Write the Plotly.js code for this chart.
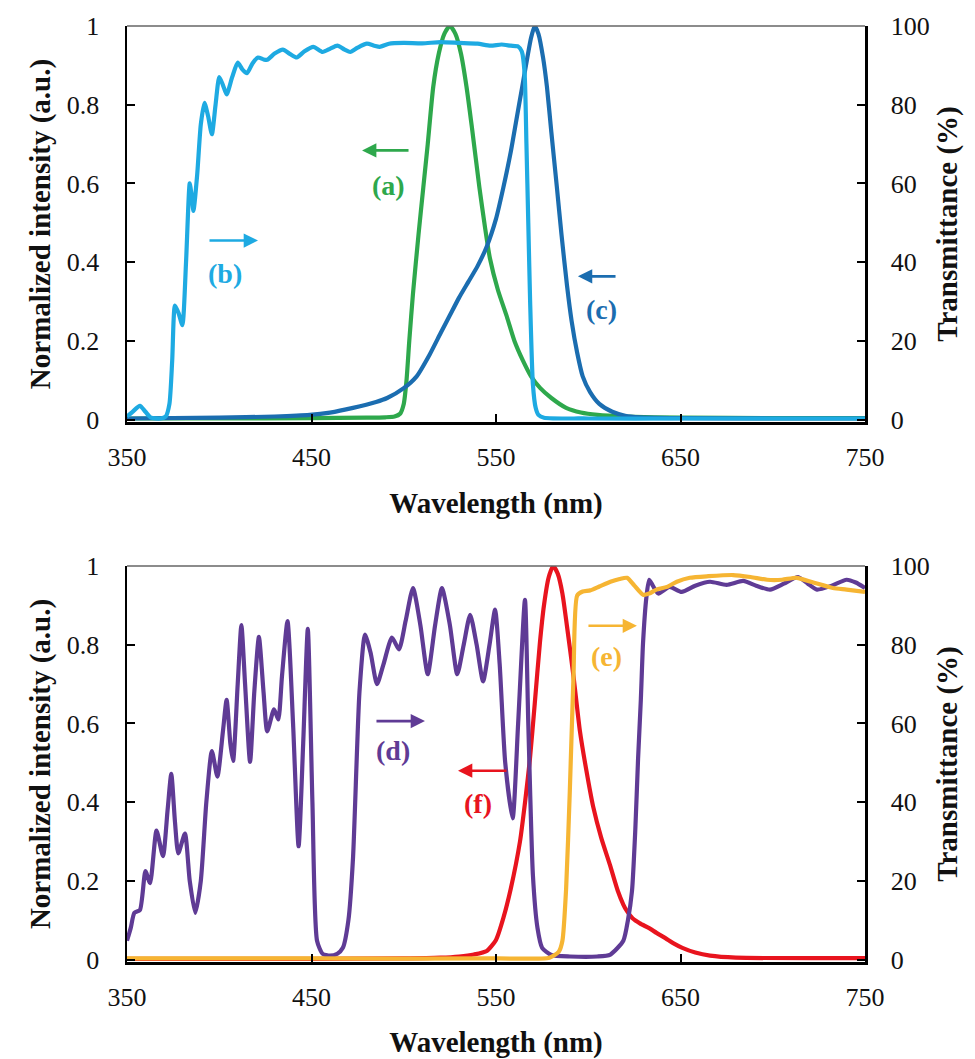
<!DOCTYPE html>
<html>
<head>
<meta charset="utf-8">
<script src="https://cdn.plot.ly/plotly-3.0.1.min.js"></script>
<style>
html,body{margin:0;padding:0;background:#fff;}
#chart{width:975px;height:1059px;}
#chart text { font-family: 'Liberation Serif', 'Times New Roman', Tinos, 'Noto Serif', serif !important; }
</style>
</head>
<body>
<div id="chart"></div>
<script>
// ---------- Top panel ----------
// (b) light blue transmittance (%)
const wlB = [350,353,357,360,363,368,371,373,374.5,376,378,380,382,384,385,386,388,390,392,394,396,398,400,402,404,407,410,412.5,415,418,421,424,426,430,434.5,438,442,446,451,456,460,464,468,471,475,480,484,487,492,500,510,520,530,540,547,553,558,562,564,565.5,566.5,567.5,568.5,570,571.5,573,576,600,650,700,750];
const tB  = [0.8,2.0,3.5,2.0,0.5,0.3,0.8,4,15,29,27,24,40,60,57,53,62,75,80.5,77,72.5,80,87,85,82.6,87,90.7,89,88,90.5,92,91.5,91.4,93,94,93,92,93.5,94.7,93.4,94.2,95,94,93.4,94.5,95.5,95,94.7,95.5,95.7,95.6,95.9,95.7,95.5,95,95.3,95,94.8,93.5,88,70,50,30,9,3,1.2,0.5,0.3,0.3,0.3,0.3];
// (a) green normalized intensity
const wlA = [350,400,450,480,490,495,498,500,501.5,503,505,508,510.6,513,516,519,522,525,528,531,534,537,541,544,546.7,551,556,560,564.6,569,574,580,588,596,605,620,650,700,750];
const iA  = [0.003,0.003,0.004,0.005,0.006,0.008,0.015,0.04,0.1,0.2,0.32,0.47,0.59,0.7,0.846,0.93,0.98,1.0,0.98,0.93,0.846,0.74,0.59,0.49,0.41,0.33,0.26,0.2,0.15,0.11,0.08,0.055,0.03,0.018,0.012,0.008,0.005,0.004,0.004];
// (c) dark blue normalized intensity
const wlC = [350,400,430,449,460,472.5,485,491,500,507,514,520,525,530,535,540,545,550,554,558,561,564,567,569,571,573,575.5,577.6,580,583,585.5,588.5,591,594,597,601,606,613,620,628,650,700,750];
const iC  = [0.003,0.005,0.008,0.012,0.018,0.03,0.045,0.055,0.08,0.11,0.165,0.22,0.265,0.31,0.35,0.39,0.44,0.51,0.59,0.68,0.76,0.84,0.92,0.97,1.0,0.98,0.92,0.846,0.73,0.59,0.47,0.34,0.25,0.17,0.11,0.07,0.04,0.02,0.01,0.006,0.004,0.003,0.003];

// ---------- Bottom panel ----------
// (d) purple transmittance (%)
const wlD = [350,352,354,357,360,362.5,366,369.5,372,374,376,377.8,381.4,384,387,390,393,396,399,402,404,406,407.5,410,412,414,416.7,419,421.5,424,426,429.7,432,434,437,440,443,445.5,448,450.5,453,456,460,464,467,470,472.5,476,479,482,485.5,489,493.6,497.4,501,505,509,513,517,520.7,525,529,532.5,536,539.5,543,546.5,549.5,552,555,559,562,565.7,567.5,570,572.5,575,580,590,605,612,619,621.5,623.7,625.5,627,628.5,629.7,631.5,633,635,638,644,650.6,658,666,675,684,691,698.5,706,713.7,719,724,732,740,745,750];
const tD  = [4.8,8,11.9,12.6,22.5,19.4,32.8,26.3,38,47.2,35,27,32,20,11.9,20,40,53,46.5,58,66,55,50.5,70,85,70,50.2,68,82,68,58,63.6,61,72,86,60,28.8,55,84,40,4.8,1.5,1.0,1.5,3,10,25.8,68,82.6,78,70,75,81.8,78.8,86,94.4,85,72.5,85,94.4,85,72.5,80,87.6,80,70.7,80,88.9,75,50,35.9,60,91.4,60,21.5,8,3,1.2,0.8,0.8,1.3,4.8,10,17.4,33,51,66,80.5,92,96.5,95,93,94.7,93.4,95,96,95.2,96.2,95,94,95.5,97.2,95.5,94,95,96.5,95.8,94.4];
// (e) yellow transmittance (%)
const wlE = [350,450,550,579,584,586,588,590,592,594,597,601,606,612,617,621,625,629.7,633,637,642.7,648,655,665,678.5,688,697,705,713,722,732.6,740,750];
const tE  = [0.3,0.3,0.3,0.5,2,4.8,18,42.7,72,92.5,93.5,93.8,94.8,96,96.7,97,95,92.7,93,94,94.7,96,97,97.4,97.7,97.2,96.5,96.5,97,95.8,94.4,94,93.4];
// (f) red normalized intensity
const wlF = [350,450,500,520,530,538,545,550,554,558,563,566,568.4,571,573.8,576,578.5,581,583.5,586,588.5,592,595.5,599,602.6,607,611.8,616,619,621,624,628,633,637,642,646,651,658,666,680,750];
const iF  = [0.002,0.002,0.003,0.005,0.008,0.013,0.022,0.05,0.106,0.18,0.3,0.41,0.51,0.65,0.805,0.9,0.97,1.0,0.98,0.93,0.846,0.72,0.58,0.48,0.39,0.31,0.24,0.175,0.14,0.123,0.105,0.092,0.08,0.068,0.054,0.042,0.03,0.018,0.01,0.005,0.004];

// tick labels
const xTicks = [350,450,550,650,750];
const yTicksL = [0,0.2,0.4,0.6,0.8,1];
const yTicksR = [0,20,40,60,80,100];

// curve labels
const labelText = ['(a)','(b)','(c)','(d)','(e)','(f)'];

(function(){
  var FAM = 'Times New Roman';
  var C = {a:'#2ea84c', b:'#1eaae2', c:'#1b6db0', d:'#5f3b95', e:'#f6b533', f:'#e8141e'};
  var LW = 4.2;

  function mkLine(x, y, c, xa, ya, nm){
    return {x:x, y:y, type:'scatter', mode:'lines', name:nm, xaxis:xa, yaxis:ya,
            line:{color:c, width:LW, shape:'spline', smoothing:0.6}, hoverinfo:'x+y'};
  }

  var traces = [
    mkLine(wlA, iA, C.a, 'x', 'y', '(a)'),
    mkLine(wlC, iC, C.c, 'x', 'y', '(c)'),
    mkLine(wlB, tB, C.b, 'x', 'y2', '(b)'),
    mkLine(wlD, tD, C.d, 'x2', 'y4', '(d)'),
    mkLine(wlE, tE, C.e, 'x2', 'y4', '(e)'),
    mkLine(wlF, iF, C.f, 'x2', 'y3', '(f)')
  ];

  function tf(){ return {family:FAM, size:26, color:'#111'}; }
  function ttf(){ return {family:FAM, size:29, color:'#111', weight:'bold'}; }

  function mkX(anc, so){
    return {anchor:anc, range:[350,750], tickvals:xTicks, ticktext:xTicks.map(String),
      ticks:'inside', ticklen:8, tickwidth:2, tickcolor:'#000', showline:true, linecolor:'#000', linewidth:2.5,
      showgrid:false, zeroline:false, tickfont:tf(), ticklabelstandoff:10,
      title:{text:'<b>Wavelength (nm)</b>', font:ttf(), standoff:so}};
  }
  function mkYL(dom, anc){
    return {domain:dom, anchor:anc, range:[-0.006,1], tickvals:yTicksL, ticktext:yTicksL.map(String),
      ticks:'inside', ticklen:8, tickwidth:2, tickcolor:'#000', showline:true, linecolor:'#000', linewidth:2.5,
      showgrid:false, zeroline:false, tickfont:tf(), ticklabelstandoff:20,
      title:{text:'<b>Normalized intensity (a.u.)</b>', font:ttf(), standoff:8}};
  }
  function mkYR(over, anc){
    return {overlaying:over, anchor:anc, side:'right', range:[-0.6,100], tickvals:yTicksR, ticktext:yTicksR.map(String),
      ticks:'inside', ticklen:8, tickwidth:2, tickcolor:'#000', showline:true, linecolor:'#000', linewidth:2.5,
      showgrid:false, zeroline:false, tickfont:tf(), ticklabelstandoff:18,
      title:{text:'<b>Transmittance (%)</b>', font:ttf(), standoff:8}};
  }

  function mkArrow(xh, xt, y, c, xa, ya){
    return {x:xh, y:y, ax:xt, ay:y, xref:xa, yref:ya, axref:xa, ayref:ya, text:'', showarrow:true,
            arrowhead:2, arrowsize:1.1, arrowwidth:2.6, arrowcolor:c, standoff:0, startstandoff:0};
  }
  function mkLabel(t, x, y, c, xa, ya){
    return {x:x, y:y, xref:xa, yref:ya, text:'<b>'+t+'</b>', showarrow:false,
            font:{family:FAM, size:28, color:c}, xanchor:'center', yanchor:'middle'};
  }

  var anns = [
    mkArrow(477.4, 503.4, 0.684, C.a, 'x', 'y'), mkLabel(labelText[0], 491.5, 0.596, C.a, 'x', 'y'),
    mkArrow(421, 393.9, 0.455, C.b, 'x', 'y'),   mkLabel(labelText[1], 403, 0.371, C.b, 'x', 'y'),
    mkArrow(594.4, 615.6, 0.364, C.c, 'x', 'y'), mkLabel(labelText[2], 607, 0.28, C.c, 'x', 'y'),
    mkArrow(511.5, 484.4, 0.606, C.d, 'x2', 'y3'), mkLabel(labelText[3], 494, 0.53, C.d, 'x2', 'y3'),
    mkArrow(626.4, 599.3, 0.848, C.e, 'x2', 'y3'), mkLabel(labelText[4], 609.7, 0.77, C.e, 'x2', 'y3'),
    mkArrow(529.4, 556.5, 0.48, C.f, 'x2', 'y3'),  mkLabel(labelText[5], 540, 0.396, C.f, 'x2', 'y3')
  ];

  var shp = [
    {type:'line', xref:'paper', yref:'paper', x0:0, x1:1, y0:1, y1:1, line:{color:'#666', width:1.6}},
    {type:'line', xref:'paper', yref:'paper', x0:0, x1:1, y0:0.4231, y1:0.4231, line:{color:'#666', width:1.6}}
  ];

  var lay = {
    width:975, height:1059,
    margin:{l:127, r:110, t:26, b:97},
    paper_bgcolor:'#fff', plot_bgcolor:'#fff',
    font:{family:FAM, color:'#111'},
    showlegend:false,
    xaxis: mkX('y', 22),
    xaxis2: mkX('y3', 40),
    yaxis: mkYL([0.5769, 1], 'x'),
    yaxis2: mkYR('y', 'x'),
    yaxis3: mkYL([0, 0.4231], 'x2'),
    yaxis4: mkYR('y3', 'x2'),
    annotations: anns,
    shapes: shp
  };

  function draw(){ Plotly.newPlot('chart', traces, lay, {displayModeBar:false, staticPlot:true}); }
  var loads = [];
  try {
    loads = [document.fonts.load('26px "Times New Roman"'), document.fonts.load('bold 29px "Times New Roman"'),
             document.fonts.load('26px "Liberation Serif"'), document.fonts.load('bold 29px "Liberation Serif"')];
  } catch(e) {}
  var done = false;
  function once(){ if(!done){ done = true; draw(); } }
  Promise.all(loads).then(once, once);
  setTimeout(once, 300);
})();
</script>
</body>
</html>
